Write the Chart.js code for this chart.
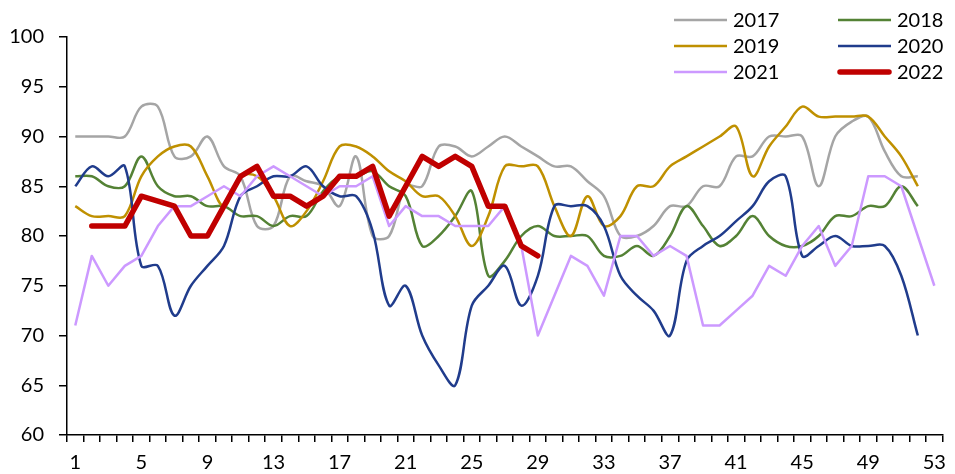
<!DOCTYPE html>
<html>
<head>
<meta charset="utf-8">
<script src="https://cdn.jsdelivr.net/npm/chart.js@4.4.1/dist/chart.umd.min.js"></script>
<style>
html,body{margin:0;padding:0;background:#fff;}
#wrap{width:955px;height:474px;position:relative;}
</style>
</head>
<body>
<div id="wrap"><canvas id="c" width="955" height="474"></canvas></div>
<script>
const weeks = ['1','2','3','4','5','6','7','8','9','10','11','12','13','14','15','16','17','18','19','20','21','22','23','24','25','26','27','28','29','30','31','32','33','34','35','36','37','38','39','40','41','42','43','44','45','46','47','48','49','50','51','52','53'];
const shownTickLabels = ['1','5','9','13','17','21','25','29','33','37','41','45','49','53'];

const y2017 = [90,90,90,90,93,93,88,88,90,87,86,81,81,86,85.5,85,83,88,80,80,85,85,89,89,88,89,90,89,88,87,87,85.5,84,80,80,81,83,83,85,85,88,88,90,90,90,85,90,91.5,92,88.5,86,86,null];
const y2018 = [86,86,85,85,88,85,84,84,83,83,82,82,81,82,82,84.5,86,86,86.5,85,84,79,80,82,84.5,76,77.5,80,81,80,80,80,78,78,79,78,80,83,81,79,80,82,80,79,79,80,82,82,83,83,85,83,null];
const y2019 = [83,82,82,82,86,88,89,89,86,83,86,86,84,81,82.5,85.5,89,89,88,86.5,85.5,84,84,82,79,82,87,87,87,83,80,84,81,82,85,85,87,88,89,90,91,86,89,91,93,92,92,92,92,90,88,85,null];
const y2020 = [85,87,86,87,77,77,72,75,77,79,84,85,86,86,87,85,84,84,80.5,73,75,70,67,65,73,75,77,73,76,83,83,83,81,76,74,72.5,70,77.5,79,80,81.5,83,85.5,86,78,79,80,79,79,79,76,70,null];
const y2021 = [71,78,75,77,78,81,83,83,84,85,84,86,87,86,85,84,85,85,86,81,83,82,82,81,81,81,83,79,70,74,78,77,74,80,80,78,79,78,71,71,72.5,74,77,76,79,81,77,79,86,86,85,80,75];
const y2022 = [null,81,81,81,84,83.5,83,80,80,83,86,87,84,84,83,84,86,86,87,82,85,88,87,88,87,83,83,79,78,null,null,null,null,null,null,null,null,null,null,null,null,null,null,null,null,null,null,null,null,null,null,null,null];

const seriesNames = ['2017','2018','2019','2020','2021','2022'];
const seriesData = [y2017,y2018,y2019,y2020,y2021,y2022];
const seriesColors = ['#A5A5A5','#548235','#BF9000','#203C8C','#CC99FF','#C00000'];
const seriesWidths = [2.5,2.5,2.5,2.5,2.5,5.5];
const seriesTension = [0.35,0.35,0.35,0.35,0,0];

const FONT = 'Lato';

const legendPlugin = {
  id: 'customLegend',
  afterDraw(chart) {
    const ctx = chart.ctx;
    const cols = [674, 838];
    const rows = [20, 46, 72];
    chart.data.datasets.forEach((ds, i) => {
      const x = cols[i % 2], y = rows[Math.floor(i / 2)];
      ctx.save();
      ctx.strokeStyle = ds.borderColor;
      ctx.lineWidth = ds.borderWidth;
      ctx.lineCap = ds.borderCapStyle || 'butt';
      ctx.beginPath();
      ctx.moveTo(x + (ds.borderCapStyle === 'round' ? 2 : 0), y);
      ctx.lineTo(x + 53 - (ds.borderCapStyle === 'round' ? 2 : 0), y);
      ctx.stroke();
      ctx.fillStyle = '#000';
      ctx.font = '20px ' + FONT;
      ctx.textAlign = 'left';
      ctx.textBaseline = 'middle';
      ctx.fillText(ds.label, x + 59, y + 1);
      ctx.restore();
    });
  }
};

function draw() {
  new Chart(document.getElementById('c'), {
    type: 'line',
    data: {
      labels: weeks,
      datasets: seriesNames.map((name, i) => ({
        label: name,
        data: seriesData[i],
        borderColor: seriesColors[i],
        backgroundColor: seriesColors[i],
        borderWidth: seriesWidths[i],
        tension: seriesTension[i],
        pointRadius: 0,
        fill: false,
        spanGaps: false,
        borderCapStyle: i === 5 ? 'round' : 'butt',
        borderJoinStyle: 'round',
        order: 6 - i
      }))
    },
    options: {
      responsive: false,
      animation: false,
      layout: { padding: { top: 37, right: 6, left: 0, bottom: 0 } },
      plugins: { legend: { display: false }, tooltip: { enabled: false } },
      scales: {
        x: {
          type: 'category',
          offset: true,
          grid: { offset: true, drawOnChartArea: false, tickLength: 7, color: '#000', lineWidth: 1.5 },
          border: { color: '#000', width: 1.5 },
          ticks: {
            autoSkip: false, maxRotation: 0, minRotation: 0, padding: 9,
            color: '#000', font: { size: 20, family: FONT },
            callback: function(v, idx) { const l = this.getLabelForValue(v); return shownTickLabels.includes(l) ? l : ''; }
          },
          afterFit(s) { s.height = 39; }
        },
        y: {
          min: 60, max: 100,
          ticks: { stepSize: 5, color: '#000', font: { size: 20, family: FONT }, padding: 15 },
          grid: { drawOnChartArea: false, tickLength: 8, color: '#000', lineWidth: 1.5 },
          border: { color: '#000', width: 1.5 },
          afterFit(s) { s.width = 67; }
        }
      }
    },
    plugins: [legendPlugin]
  });
}
if (document.fonts && document.fonts.load) {
  document.fonts.load('20px ' + FONT).then(draw, draw);
} else { draw(); }
</script>
</body>
</html>
